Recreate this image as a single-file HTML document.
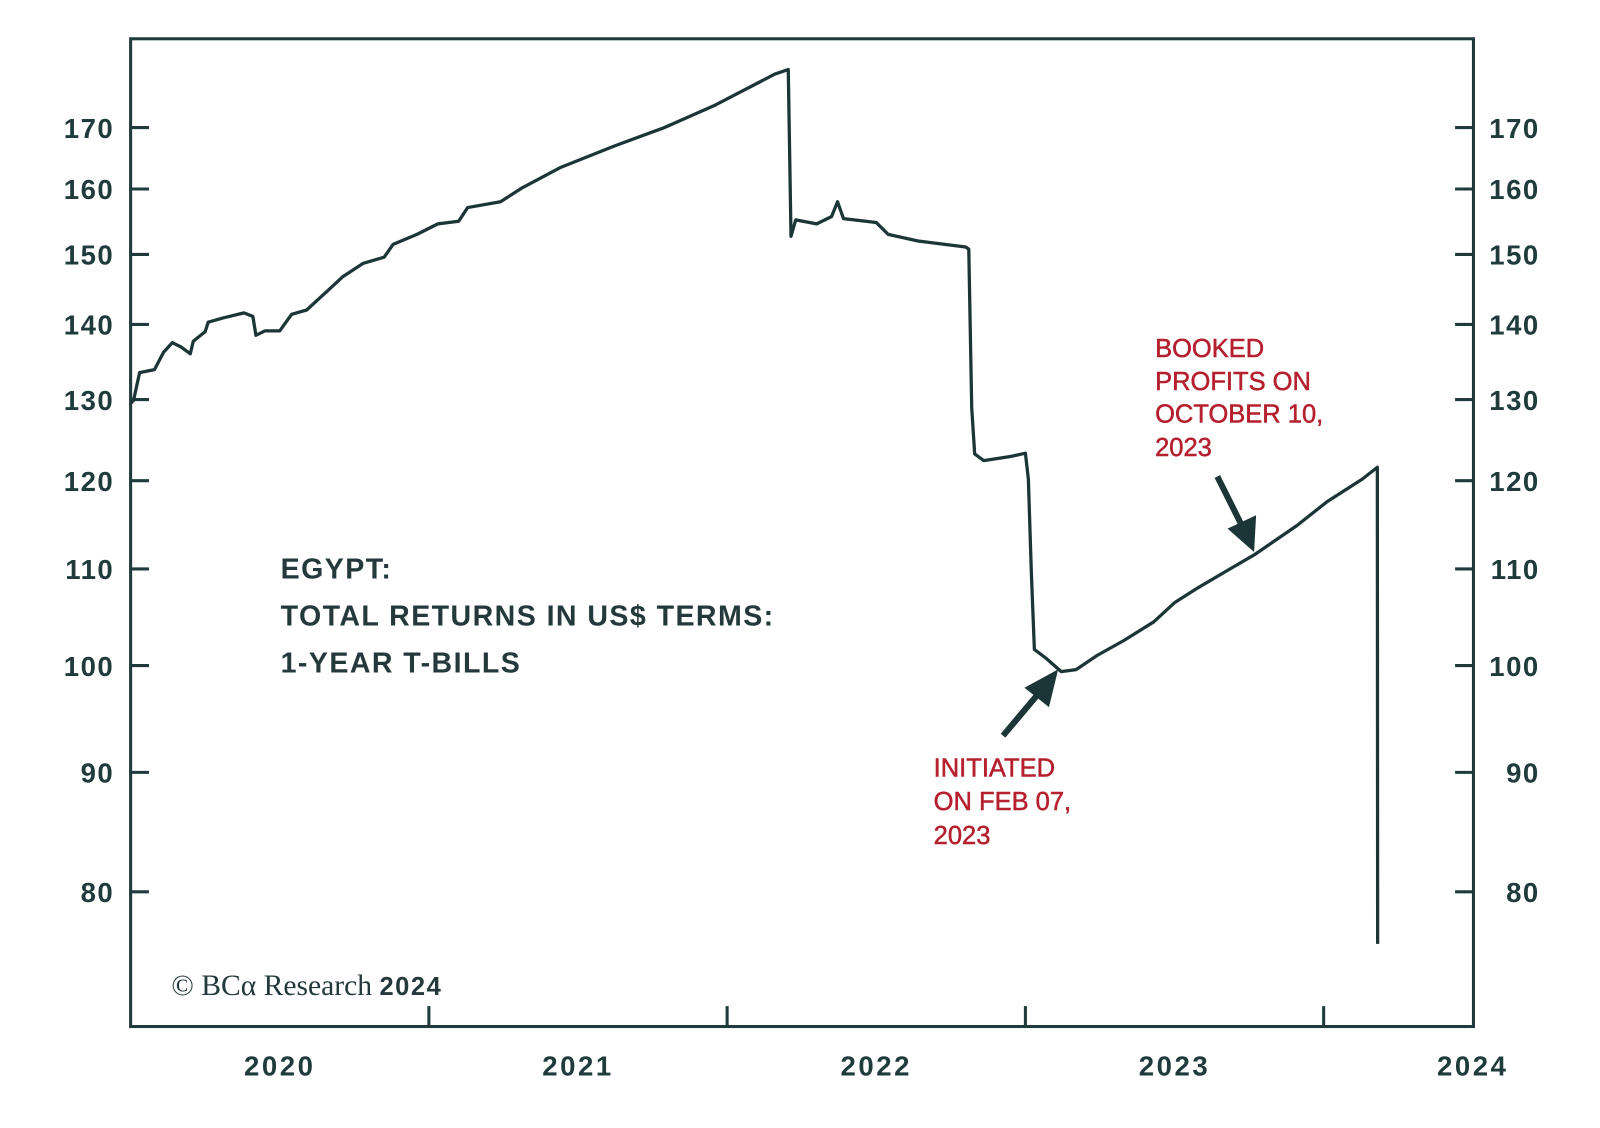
<!DOCTYPE html>
<html><head><meta charset="utf-8"><style>
html,body{margin:0;padding:0;background:#fff;}
svg{display:block;font-family:"Liberation Sans",sans-serif;}
</style></head><body>
<svg id="chart" width="1600" height="1128" viewBox="0 0 1600 1128" xmlns="http://www.w3.org/2000/svg">
<g transform="scale(1.0204)">
<rect x="128" y="38" width="1316" height="968" fill="none" stroke="#1f3b3c" stroke-width="3"/>
<g id="axes"></g>
<g fill="#24393b" font-size="28" font-weight="bold" letter-spacing="1.4">
<text x="275" y="567">EGYPT:</text>
<text x="275" y="613">TOTAL RETURNS IN US$ TERMS:</text>
<text x="275" y="659">1-YEAR T-BILLS</text>
</g>
<g fill="#b5202e" font-size="25" stroke="#b5202e" stroke-width="0.5">
<text x="915" y="761">INITIATED</text>
<text x="915" y="794">ON FEB 07,</text>
<text x="915" y="827">2023</text>
</g>
<g fill="#b5202e" font-size="25" stroke="#b5202e" stroke-width="0.5">
<text x="1132" y="350">BOOKED</text>
<text x="1132" y="382">PROFITS ON</text>
<text x="1132" y="414">OCTOBER 10,</text>
<text x="1132" y="447">2023</text>
</g>
<g>
<line x1="983" y1="721" x2="1020" y2="677" stroke="#1c3536" stroke-width="6"/>
<polygon points="1037,656 1028,693 1004,674" fill="#1c3536"/>
</g>
<g>
<line x1="1193" y1="467" x2="1218" y2="517" stroke="#1c3536" stroke-width="6"/>
<polygon points="1229,541 1203,518 1231,505" fill="#1c3536"/>
</g>
<text x="168" y="975" font-family="Liberation Serif,serif" font-size="29" fill="#24393b">© BCα Research <tspan font-family="Liberation Sans,sans-serif" font-weight="bold" font-size="25" letter-spacing="1.5">2024</tspan></text>
<g id="series"></g>
</g>
</svg>
<script>
const dates=[2020.00,2020.01,2020.03,2020.08,2020.11,2020.14,2020.17,2020.20,2020.21,2020.25,2020.26,2020.31,2020.38,2020.41,2020.42,2020.45,2020.50,2020.54,2020.59,2020.66,2020.71,2020.78,2020.85,2020.88,2020.96,2021.03,2021.10,2021.13,2021.24,2021.31,2021.44,2021.62,2021.79,2021.96,2022.16,2022.205,2022.214,2022.23,2022.30,2022.35,2022.37,2022.39,2022.50,2022.54,2022.64,2022.80,2022.81,2022.82,2022.83,2022.86,2022.95,2023.00,2023.01,2023.02,2023.03,2023.07,2023.12,2023.17,2023.24,2023.33,2023.43,2023.50,2023.58,2023.67,2023.77,2023.91,2024.01,2024.13,2024.18,2024.181];
const values=[129.5,129.9,133.5,133.9,136.2,137.5,136.9,136,137.7,139,140.3,140.9,141.6,141.1,138.5,139.1,139.1,141.4,142,144.7,146.7,148.7,149.6,151.5,153,154.6,155,157.1,158,160.1,163.4,166.9,170,173.8,179.2,180,152.7,155.2,154.6,155.7,158,155.4,154.8,153,152,151.1,150.8,128.9,123.2,122.4,122.9,123.3,120.2,109.7,101.6,100.7,99.4,99.6,101,102.5,104.4,106.4,108,109.7,111.6,114.8,117.5,120.2,121.6,76];
const yTicks=[80,90,100,110,120,130,140,150,160,170];
const xTicks=[2021,2022,2023,2024];
const yearLabels=["2020","2021","2022","2023","2024"];
const L=128,R=1444,T=38,B=1006;
const xs=t=>L+(t-2020)*292.3;
const ys=v=>125+2288*Math.log10(170/v);
const NS="http://www.w3.org/2000/svg";
const axes=document.getElementById('axes');
function mk(tag,attrs,parent){const e=document.createElementNS(NS,tag);for(const k in attrs)e.setAttribute(k,attrs[k]);parent.appendChild(e);return e;}
yTicks.forEach(v=>{
  const y=ys(v);
  const a=mk('line',{x1:L,x2:L+18,y1:y,y2:y,stroke:'#1f3b3c','stroke-width':3},axes);
  
  
  const b=mk('line',{x1:R-18,x2:R,y1:y,y2:y,stroke:'#1f3b3c','stroke-width':3},axes);
  
  
  const t1=mk('text',{x:112,y:y+10,'text-anchor':'end','font-size':27,'font-weight':'bold','letter-spacing':1.5,fill:'#1f3b3c'},axes);
  t1.textContent=v;
  
  
  const t2=mk('text',{x:1509,y:y+10,'text-anchor':'end','font-size':27,'font-weight':'bold','letter-spacing':1.5,fill:'#1f3b3c'},axes);
  t2.textContent=v;
  
  
});
xTicks.forEach(t=>{
  const x=xs(t);
  const l=mk('line',{x1:x,x2:x,y1:B-20,y2:B,stroke:'#1f3b3c','stroke-width':3},axes);
  
  
});
yearLabels.forEach((s,i)=>{
  const x=xs(2020.5+i);
  const tx=mk('text',{x:Math.min(x,1444),y:1054,'text-anchor':'middle','font-size':27,'font-weight':'bold','letter-spacing':2.5,fill:'#1f3b3c'},axes);
  tx.textContent=s;
  
  
});
const d=dates.map((t,i)=>(i?'L':'M')+xs(t).toFixed(1)+','+ys(values[i]).toFixed(1)).join(' ');
const p=mk('path',{d:d,fill:'none',stroke:'#1c3536','stroke-width':3.2,'stroke-linejoin':'round'},document.getElementById('series'));


</script>
</body></html>
